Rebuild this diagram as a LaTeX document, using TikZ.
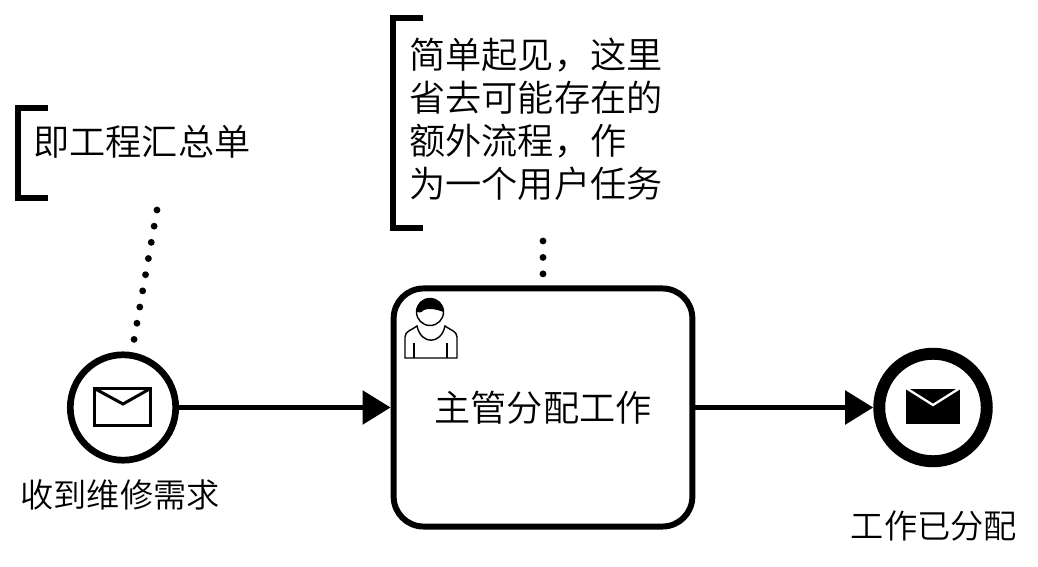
\documentclass[tikz,border=0pt]{standalone}
\usepackage{fontspec}
\usepackage{tikz}
\setmainfont{Noto Sans CJK SC}[UprightFont=* DemiLight]
\usetikzlibrary{arrows.meta}
\tikzset{
  flow/.style={line width=3.4pt,-{Triangle[length=16pt,width=18.7pt]}},
  assoc/.style={line width=3.9pt,line cap=round,dash pattern=on 0pt off 9.35pt},
  bracket/.style={line width=3.4pt},
  label/.style={font=\fontsize{20.6pt}{24.4pt}\selectfont,align=left,inner sep=0pt},
  smalllabel/.style={font=\fontsize{18.9pt}{24pt}\selectfont,inner sep=0pt},
  event/.style={circle,draw,fill=white,inner sep=0pt},
}
\begin{document}
\begin{tikzpicture}[x=0.02cm,y=-0.02cm]
				\useasboundingbox (0,0) rectangle (1038,567);
				\node[event,line width=3.8pt,minimum size=60pt] (start) at (123,407.5) {};
				\node[event,line width=6.8pt,minimum size=61.2pt] (end) at (933,407.5) {};
				\node[draw,line width=3.4pt,rounded corners=17pt,minimum width=170pt,minimum height=135.5pt,
					label,align=center,inner sep=0pt] (task) at (543,407.5) {主管分配工作};
				\node[smalllabel] (startlabel) at (120,495) {收到维修需求};
				\node[smalllabel] (endlabel) at (934,526) {工作已分配};
				\node[label,anchor=west] (noteA) at (33,142) {即工程汇总单};
				\node[label,anchor=north west] (noteB) at (409,38) {简单起见，这里\\省去可能存在的\\额外流程，作\\为一个用户任务};
				\draw[bracket] (48,108) -- (18,108) -- (18,198) -- (48,198);
				\draw[bracket] (423,18) -- (393,18) -- (393,228) -- (423,228);
				\coordinate (a1) at (157,210);
				\coordinate (a2) at (133.8,341);
				\coordinate (b1) at (543,241);
				\coordinate (b2) at (543,274);
				\draw[assoc] (a1) -- (a2);
				\draw[assoc] (b1) -- (b2);
				\draw[flow] (start) -- (task);
				\draw[flow] (task) -- (end);
				% envelopes
				\draw[line width=1.7pt] (94.5,388.5) rectangle (150.5,425.5);
				\draw[line width=1.7pt] (94.5,388.5) -- (123,404) -- (150.5,388.5);
				\fill (906,389) rectangle (960,424);
				\draw[white,line width=1.3pt] (906,388) -- (933,405) -- (960,388);
				% user
				\draw[line width=0.8pt,fill=white] (405,358) -- (405,337) .. controls (405,331) and (412,330) .. (417,326)
					.. controls (421,345) and (441,345) .. (445,326) .. controls (450,330) and (457,331) .. (457,337) -- (457,358) -- cycle;
				\draw[line width=0.8pt,fill=white] (430,312) circle (13.5);
				\fill (416.5,312) .. controls (416.5,294) and (443.5,294) .. (443.5,312) .. controls (436,309) and (428,308) .. (424,310) .. controls (421,313) and (419,313) .. (416.5,312) -- cycle;
				\draw[line width=1pt] (414,343) -- (414,358);
				\draw[line width=1pt] (447,343) -- (447,358);
			\end{tikzpicture}
\end{document}
